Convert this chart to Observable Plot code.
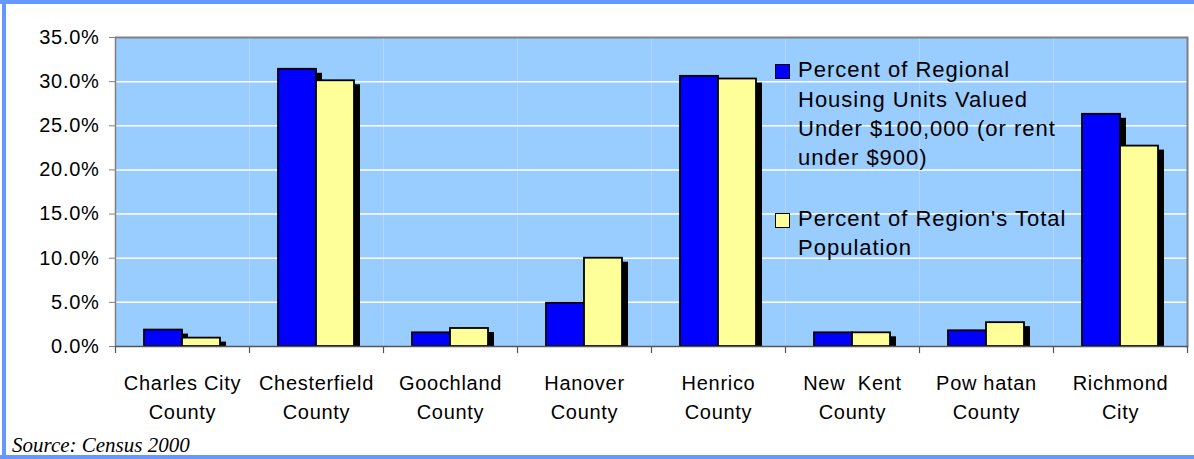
<!DOCTYPE html>
<html><head><meta charset="utf-8">
<script src="https://cdn.jsdelivr.net/npm/d3@7"></script>
<script src="https://cdn.jsdelivr.net/npm/@observablehq/plot@0.6"></script>
<style>
html,body{margin:0;padding:0;background:#fff;}
#wrap{position:relative;width:1194px;height:459px;overflow:hidden;background:#fff;font-family:Arial,"Liberation Sans",sans-serif;}
.bd{position:absolute;background:#6699FF;}
#chart{position:absolute;left:0;top:0;}
#chart svg text{letter-spacing:0.7px;white-space:pre;}
.sw{position:absolute;left:775px;width:13px;height:13px;border:1.5px solid #000;}
.lt{position:absolute;left:798px;font-size:22px;line-height:29.3px;letter-spacing:1px;color:#000;white-space:nowrap;}
#src{position:absolute;left:12px;top:435px;font-family:"Liberation Serif","Times New Roman",serif;font-style:italic;font-size:21px;line-height:21px;color:#000;}
</style></head><body>
<div id="wrap">
  <div id="chart"></div>
  <div id="legend"></div>
  <div id="src"></div>
  <div class="bd" style="left:0;top:0;width:1194px;height:4px;"></div>
  <div class="bd" style="left:2px;top:0;width:4px;height:459px;"></div>
  <div class="bd" style="left:0;top:455px;width:1194px;height:4px;"></div>
</div>
<script>
const categories = ["Charles City\nCounty", "Chesterfield\nCounty", "Goochland\nCounty", "Hanover\nCounty", "Henrico\nCounty", "New  Kent\nCounty", "Pow hatan\nCounty", "Richmond\nCity"];
const housingUnder100k = [1.86, 31.4, 1.55, 4.9, 30.6, 1.55, 1.78, 26.3];
const populationShare = [0.95, 30.1, 2.04, 10.0, 30.3, 1.55, 2.7, 22.7];
const seriesKeys = ["housing", "population"];
const seriesLegendLines = [
  ["Percent of Regional", "Housing Units Valued", "Under $100,000 (or rent", "under $900)"],
  ["Percent of Region's Total", "Population"]
];
const yTicks = [0, 5, 10, 15, 20, 25, 30, 35];
const gridTicks = [5, 10, 15, 20, 25, 30];
const sourceNote = "Source: Census 2000";

const seriesColors = ["#0000FF", "#FFFF99"];

const rows = [];
categories.forEach((c, i) => {
  rows.push({cat: c, series: seriesKeys[0], value: housingUnder100k[i]});
  rows.push({cat: c, series: seriesKeys[1], value: populationShare[i]});
});

const chart = Plot.plot({
  width: 1194,
  height: 430,
  marginTop: 37,
  marginLeft: 113,
  marginRight: 5,
  marginBottom: 84,
  style: {fontFamily: "Arial, 'Liberation Sans', sans-serif", background: "transparent", color: "#000"},
  fx: {domain: categories, padding: 0, label: null},
  x: {domain: seriesKeys, paddingInner: 0, paddingOuter: 0.76, axis: null},
  y: {domain: [0, 35], label: null},
  color: {domain: seriesKeys, range: seriesColors},
  marks: [
    Plot.frame({fill: "#99CCFF", stroke: null}),
    Plot.gridY(gridTicks, {stroke: "#FFFFFF", strokeOpacity: 1, strokeWidth: 1.5}),
    Plot.ruleY([35], {stroke: "#808080", strokeWidth: 2}),
    Plot.frame({anchor: "right", stroke: "#808080", strokeWidth: 2, facetAnchor: "right"}),
    Plot.barY(rows, {fx: "cat", x: "series", y: "value", fill: "#000", dx: 6, dy: 4, insetBottom: 4}),
    Plot.barY(rows, {fx: "cat", x: "series", y: "value", fill: "series", stroke: "#000", strokeWidth: 1.8}),
    Plot.ruleY([0], {stroke: "#555", strokeWidth: 1.5}),
    Plot.frame({anchor: "left", stroke: "#808080", strokeWidth: 1.5, facetAnchor: "left"}),
    Plot.frame({anchor: "left", stroke: "#555", strokeWidth: 1.2, insetTop: 309, insetBottom: -6}),
    Plot.frame({anchor: "right", stroke: "#555", strokeWidth: 1.2, insetTop: 309, insetBottom: -6, facetAnchor: "right"}),
    Plot.axisY(yTicks, {tickSize: 6, tickPadding: 10, fontSize: 20, stroke: "#808080", tickFormat: d => d.toFixed(1) + "%", label: null}),
    Plot.axisFx({anchor: "bottom", tickSize: 0, tickPadding: 23, fontSize: 20, lineHeight: 1.45, label: null})
  ]
});
document.getElementById("chart").appendChild(chart);

// legend
const legend = document.getElementById("legend");
const swatchTops = [64, 213];
const textTops = [55.4, 204.1];
seriesKeys.forEach((k, i) => {
  const sw = document.createElement("div");
  sw.className = "sw";
  sw.style.top = swatchTops[i] + "px";
  sw.style.background = seriesColors[i];
  legend.appendChild(sw);
  const t = document.createElement("div");
  t.className = "lt";
  t.style.top = textTops[i] + "px";
  t.innerHTML = seriesLegendLines[i].map(s => s.replace(/&/g, "&amp;").replace(/</g, "&lt;")).join("<br>");
  legend.appendChild(t);
});
document.getElementById("src").textContent = sourceNote;
</script>
</body></html>
